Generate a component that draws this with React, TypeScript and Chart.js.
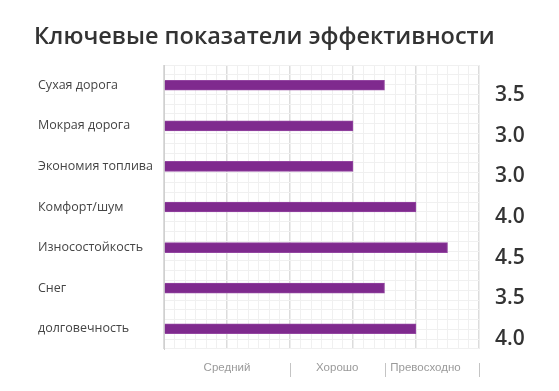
import React, { useEffect, useRef } from "react";
import { Chart, registerables } from "chart.js";

Chart.register(...registerables);

const titleText = "Ключевые показатели эффективности";
const categories = [
  "Сухая дорога",
  "Мокрая дорога",
  "Экономия топлива",
  "Комфорт/шум",
  "Износостойкость",
  "Снег",
  "долговечность",
];
const scores = [3.5, 3.0, 3.0, 4.0, 4.5, 3.5, 4.0];
const ratingLabels = ["Средний", "Хорошо", "Превосходно"];
const ratingCenters = [1, 2.75, 4.15];
const ratingDividers = [2, 3.5, 5];
const xMin = 0;
const xMax = 5;
const xSubdivisions = 6;
const yGridSteps = 28;

const textPlugin = {
  id: "textPlugin",
  afterDraw(chart: any) {
    const ctx = chart.ctx;
    const area = chart.chartArea;
    const xs = chart.scales.x;
    ctx.save();
    // title
    ctx.fillStyle = "#333333";
    ctx.font = "600 23.5px 'Open Sans'";
    ctx.textAlign = "left";
    ctx.textBaseline = "alphabetic";
    ctx.fillText(titleText, 34, 44);
    // value labels
    const meta = chart.getDatasetMeta(0);
    ctx.font = "600 21px 'Open Sans'";
    ctx.fillStyle = "#333333";
    ctx.textBaseline = "middle";
    meta.data.forEach((bar: any, i: number) => {
      ctx.fillText(scores[i].toFixed(1), area.right + 16, bar.y + 10);
    });
    // rating labels
    ctx.font = "11.5px 'Liberation Sans'";
    ctx.fillStyle = "#9a9a9a";
    ctx.textAlign = "center";
    ratingLabels.forEach((t, i) => {
      ctx.fillText(t, xs.getPixelForValue(ratingCenters[i]), 368);
    });
    ctx.strokeStyle = "#c4c4c4";
    ctx.lineWidth = 1;
    ratingDividers.forEach((v) => {
      const x = Math.round(xs.getPixelForValue(v)) + 0.5;
      ctx.beginPath();
      ctx.moveTo(x, 363);
      ctx.lineTo(x, 377);
      ctx.stroke();
    });
    ctx.restore();
  },
};

export default function App() {
  const ref = useRef<HTMLCanvasElement>(null);
  useEffect(() => {
    document.body.style.margin = "0";
    const chart = new Chart(ref.current!, {
      type: "bar",
      data: {
        labels: categories,
        datasets: [
          {
            data: scores,
            backgroundColor: "#7f2a8e",
            borderColor: "#9346a1",
            borderWidth: 1,
            barThickness: 10,
            xAxisID: "x",
            yAxisID: "y",
          },
        ],
      },
      options: {
        indexAxis: "y",
        responsive: false,
        animation: false,
        devicePixelRatio: 1,
        layout: { padding: { left: 38, right: 80, top: 65, bottom: 42 } },
        plugins: {
          legend: { display: false },
          tooltip: { enabled: false },
          title: { display: false },
        },
        scales: {
          x: {
            type: "linear",
            min: xMin,
            max: xMax,
            afterBuildTicks: (scale: any) => {
              const t = [];
              for (let i = 0; i <= (xMax - xMin) * xSubdivisions; i++) {
                t.push({ value: xMin + i / xSubdivisions });
              }
              scale.ticks = t;
            },
            afterFit: (scale: any) => {
              scale.height = 0;
            },
            ticks: { display: false },
            border: { display: false },
            grid: {
              drawTicks: false,
              color: (c: any) => {
                const v = c.tick ? c.tick.value : 0;
                return Math.abs(v - Math.round(v)) < 1e-6 ? "#dcdcdc" : "#f0f0f0";
              },
              lineWidth: (c: any) => {
                const v = c.tick ? c.tick.value : 0;
                return Math.abs(v - Math.round(v)) < 1e-6 ? 1.5 : 1;
              },
            },
          },
          y: {
            type: "category",
            position: "left",
            afterFit: (scale: any) => {
              scale.width = 126;
            },
            grid: { display: false, drawTicks: false },
            border: { display: true, color: "#d0d0d0", width: 1 },
            ticks: {
              crossAlign: "far",
              color: "#454545",
              font: { family: "'Open Sans'", size: 12.5 },
            },
          },
          yGrid: {
            type: "linear",
            position: "right",
            min: 0,
            max: yGridSteps,
            reverse: true,
            afterBuildTicks: (scale: any) => {
              const t = [];
              for (let i = 0; i <= yGridSteps; i++) t.push({ value: i });
              scale.ticks = t;
            },
            afterFit: (scale: any) => {
              scale.width = 0;
            },
            ticks: { display: false },
            border: { display: false },
            grid: { drawTicks: false, color: "#f0f0f0" },
          },
        },
      },
      plugins: [textPlugin],
    } as any);
    return () => chart.destroy();
  }, []);
  return (
    <div style={{ position: "fixed", left: 0, top: 0, width: 559, height: 391, background: "#fff" }}>
      <canvas ref={ref} width={559} height={391} style={{ display: "block" }} />
    </div>
  );
}
